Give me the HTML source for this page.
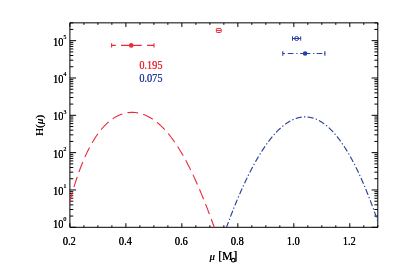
<!DOCTYPE html>
<html><head><meta charset="utf-8"><title>plot</title>
<style>
html,body{margin:0;padding:0;background:#fff;}
body{width:399px;height:273px;overflow:hidden;}
svg{display:block;will-change:transform;}
text{font-family:"Liberation Serif",serif;font-size:11.7px;color:#000;fill:currentColor;text-shadow:0.2px 0 0 currentColor;}
</style></head><body>
<svg width="399" height="273" viewBox="0 0 399 273">
<rect width="399" height="273" fill="#fff"/>
<rect x="69.90" y="22.85" width="307.90" height="204.45" fill="none" stroke="#000" stroke-width="1" stroke-linejoin="round"/>
<path d="M69.90 227.30v-4.10M69.90 22.85v4.10M83.90 227.30v-2.00M83.90 22.85v2.00M97.89 227.30v-2.00M97.89 22.85v2.00M111.89 227.30v-2.00M111.89 22.85v2.00M125.88 227.30v-4.10M125.88 22.85v4.10M139.88 227.30v-2.00M139.88 22.85v2.00M153.87 227.30v-2.00M153.87 22.85v2.00M167.87 227.30v-2.00M167.87 22.85v2.00M181.86 227.30v-4.10M181.86 22.85v4.10M195.86 227.30v-2.00M195.86 22.85v2.00M209.85 227.30v-2.00M209.85 22.85v2.00M223.85 227.30v-2.00M223.85 22.85v2.00M237.85 227.30v-4.10M237.85 22.85v4.10M251.84 227.30v-2.00M251.84 22.85v2.00M265.84 227.30v-2.00M265.84 22.85v2.00M279.83 227.30v-2.00M279.83 22.85v2.00M293.83 227.30v-4.10M293.83 22.85v4.10M307.82 227.30v-2.00M307.82 22.85v2.00M321.82 227.30v-2.00M321.82 22.85v2.00M335.81 227.30v-2.00M335.81 22.85v2.00M349.81 227.30v-4.10M349.81 22.85v4.10M363.80 227.30v-2.00M363.80 22.85v2.00M377.80 227.30v-2.00M377.80 22.85v2.00M69.90 227.30h6.20M377.80 227.30h-6.20M69.90 216.06h3.40M377.80 216.06h-3.40M69.90 209.49h3.40M377.80 209.49h-3.40M69.90 204.83h3.40M377.80 204.83h-3.40M69.90 201.21h3.40M377.80 201.21h-3.40M69.90 198.25h3.40M377.80 198.25h-3.40M69.90 195.75h3.40M377.80 195.75h-3.40M69.90 193.59h3.40M377.80 193.59h-3.40M69.90 191.68h3.40M377.80 191.68h-3.40M69.90 189.97h6.20M377.80 189.97h-6.20M69.90 178.74h3.40M377.80 178.74h-3.40M69.90 172.16h3.40M377.80 172.16h-3.40M69.90 167.50h3.40M377.80 167.50h-3.40M69.90 163.88h3.40M377.80 163.88h-3.40M69.90 160.93h3.40M377.80 160.93h-3.40M69.90 158.43h3.40M377.80 158.43h-3.40M69.90 156.26h3.40M377.80 156.26h-3.40M69.90 154.35h3.40M377.80 154.35h-3.40M69.90 152.64h6.20M377.80 152.64h-6.20M69.90 141.41h3.40M377.80 141.41h-3.40M69.90 134.83h3.40M377.80 134.83h-3.40M69.90 130.17h3.40M377.80 130.17h-3.40M69.90 126.55h3.40M377.80 126.55h-3.40M69.90 123.60h3.40M377.80 123.60h-3.40M69.90 121.10h3.40M377.80 121.10h-3.40M69.90 118.93h3.40M377.80 118.93h-3.40M69.90 117.02h3.40M377.80 117.02h-3.40M69.90 115.32h6.20M377.80 115.32h-6.20M69.90 104.08h3.40M377.80 104.08h-3.40M69.90 97.51h3.40M377.80 97.51h-3.40M69.90 92.84h3.40M377.80 92.84h-3.40M69.90 89.22h3.40M377.80 89.22h-3.40M69.90 86.27h3.40M377.80 86.27h-3.40M69.90 83.77h3.40M377.80 83.77h-3.40M69.90 81.61h3.40M377.80 81.61h-3.40M69.90 79.70h3.40M377.80 79.70h-3.40M69.90 77.99h6.20M377.80 77.99h-6.20M69.90 66.75h3.40M377.80 66.75h-3.40M69.90 60.18h3.40M377.80 60.18h-3.40M69.90 55.51h3.40M377.80 55.51h-3.40M69.90 51.90h3.40M377.80 51.90h-3.40M69.90 48.94h3.40M377.80 48.94h-3.40M69.90 46.44h3.40M377.80 46.44h-3.40M69.90 44.28h3.40M377.80 44.28h-3.40M69.90 42.37h3.40M377.80 42.37h-3.40M69.90 40.66h6.20M377.80 40.66h-6.20M69.90 29.42h3.40M377.80 29.42h-3.40M69.90 22.85h3.40M377.80 22.85h-3.40" fill="none" stroke="#000" stroke-width="1"/>
<path d="M69.50 202.56 L70.50 198.86 L71.50 195.28 L72.50 191.82 L73.50 188.46 L74.50 185.21 L75.50 182.07 L76.50 179.02 L77.50 176.08 L78.50 173.23 L79.50 170.48 L80.50 167.81 L81.50 165.24 L82.50 162.75 L83.50 160.35 L84.50 158.03 L85.50 155.78 L86.50 153.62 L87.50 151.53 L88.50 149.51 L89.50 147.57 L90.50 145.69 L91.50 143.89 L92.50 142.15 L93.50 140.47 L94.50 138.85 L95.50 137.30 L96.50 135.81 L97.50 134.37 L98.50 132.99 L99.50 131.67 L100.50 130.40 L101.50 129.18 L102.50 128.01 L103.50 126.89 L104.50 125.82 L105.50 124.80 L106.50 123.83 L107.50 122.90 L108.50 122.02 L109.50 121.18 L110.50 120.38 L111.50 119.62 L112.50 118.91 L113.50 118.24 L114.50 117.60 L115.50 117.01 L116.50 116.45 L117.50 115.93 L118.50 115.45 L119.50 115.01 L120.50 114.60 L121.50 114.23 L122.50 113.89 L123.50 113.59 L124.50 113.32 L125.50 113.08 L126.50 112.88 L127.50 112.71 L128.50 112.58 L129.50 112.48 L130.50 112.41 L131.50 112.38 L132.50 112.37 L133.50 112.40 L134.50 112.46 L135.50 112.56 L136.50 112.68 L137.50 112.84 L138.50 113.03 L139.50 113.25 L140.50 113.50 L141.50 113.79 L142.50 114.11 L143.50 114.45 L144.50 114.84 L145.50 115.25 L146.50 115.70 L147.50 116.17 L148.50 116.68 L149.50 117.23 L150.50 117.80 L151.50 118.41 L152.50 119.06 L153.50 119.73 L154.50 120.44 L155.50 121.18 L156.50 121.96 L157.50 122.77 L158.50 123.61 L159.50 124.49 L160.50 125.40 L161.50 126.35 L162.50 127.33 L163.50 128.35 L164.50 129.40 L165.50 130.49 L166.50 131.62 L167.50 132.78 L168.50 133.97 L169.50 135.21 L170.50 136.47 L171.50 137.78 L172.50 139.12 L173.50 140.50 L174.50 141.91 L175.50 143.36 L176.50 144.85 L177.50 146.38 L178.50 147.94 L179.50 149.54 L180.50 151.18 L181.50 152.86 L182.50 154.57 L183.50 156.32 L184.50 158.11 L185.50 159.93 L186.50 161.80 L187.50 163.70 L188.50 165.63 L189.50 167.61 L190.50 169.62 L191.50 171.66 L192.50 173.75 L193.50 175.87 L194.50 178.02 L195.50 180.21 L196.50 182.44 L197.50 184.70 L198.50 187.00 L199.50 189.33 L200.50 191.69 L201.50 194.09 L202.50 196.52 L203.50 198.98 L204.50 201.48 L205.50 204.01 L206.50 206.56 L207.50 209.15 L208.50 211.77 L209.50 214.41 L210.50 217.08 L211.50 219.78 L212.50 222.51 L213.50 225.26 L214.25 227.34" fill="none" stroke="#ea2a38" stroke-width="1.1" stroke-dasharray="10.8 5.2"/>
<path d="M226.50 227.28L226.60 227.00L227.10 225.64L227.60 224.29L228.10 222.95L228.43 222.08M229.24 219.92L229.30 219.75L229.70 218.71M230.50 216.61L230.60 216.35L231.10 215.05L231.60 213.76L232.10 212.48L232.60 211.21L232.75 210.83M233.60 208.69L233.60 208.69L234.08 207.49M234.93 205.40L235.00 205.22L235.50 203.99L236.00 202.78L236.50 201.57L237.00 200.37L237.29 199.67M238.19 197.55L238.20 197.52L238.70 196.35M239.59 194.29L239.60 194.26L240.10 193.11L240.60 191.96L241.10 190.83L241.60 189.70L242.09 188.61M243.04 186.52L243.10 186.38L243.58 185.34M244.52 183.29L244.60 183.13L245.10 182.06L245.60 181.00L246.10 179.95L246.60 178.91L247.10 177.87L247.18 177.70M248.20 175.63L248.20 175.62L248.70 174.62L248.78 174.47M249.79 172.46L249.80 172.43L250.30 171.45L250.80 170.48L251.30 169.51L251.80 168.56L252.30 167.61L252.65 166.96M253.74 164.93L253.80 164.82L254.30 163.91L254.36 163.79M255.46 161.83L255.50 161.75L256.00 160.86L256.50 159.99L257.00 159.12L257.50 158.26L258.00 157.41L258.50 156.57L258.56 156.46M259.75 154.49L259.80 154.42L260.30 153.61L260.44 153.39M261.64 151.48L261.70 151.38L262.20 150.60L262.70 149.83L263.20 149.07L263.70 148.32L264.20 147.58L264.70 146.84L265.06 146.31M266.38 144.43L266.40 144.40L266.90 143.71L267.14 143.38M268.48 141.57L268.50 141.54L269.00 140.87L269.50 140.22L270.00 139.58L270.50 138.95L271.00 138.32L271.50 137.70L272.00 137.10L272.33 136.71M273.82 134.96L273.90 134.87L274.40 134.30L274.68 133.99M276.21 132.33L276.30 132.23L276.80 131.71L277.30 131.20L277.80 130.69L278.30 130.19L278.80 129.71L279.30 129.23L279.80 128.76L280.30 128.30L280.64 127.99M282.37 126.49L282.40 126.46L282.90 126.05L283.38 125.66M285.16 124.29L285.20 124.26L285.70 123.90L286.20 123.54L286.70 123.20L287.20 122.86L287.70 122.54L288.20 122.22L288.70 121.91L289.20 121.61L289.70 121.32L290.20 121.04L290.37 120.94M292.42 119.90L292.50 119.86L293.00 119.63L293.50 119.41L293.61 119.37M295.70 118.55L295.80 118.52L296.30 118.35L296.80 118.19L297.30 118.04L297.80 117.89L298.30 117.76L298.80 117.64L299.30 117.53L299.80 117.42L300.30 117.33L300.80 117.24L301.30 117.17L301.72 117.11M304.02 116.92L304.10 116.92L304.60 116.90L305.10 116.90L305.31 116.90M307.56 117.01L307.60 117.02L308.10 117.07L308.60 117.13L309.10 117.20L309.60 117.28L310.10 117.37L310.60 117.47L311.10 117.58L311.60 117.70L312.10 117.83L312.60 117.97L313.10 118.11L313.60 118.27L313.62 118.28M315.78 119.07L315.80 119.07L316.30 119.28L316.80 119.50L316.97 119.58M318.99 120.57L319.00 120.58L319.50 120.85L320.00 121.13L320.50 121.42L321.00 121.72L321.50 122.03L322.00 122.35L322.50 122.68L323.00 123.02L323.50 123.37L324.00 123.73L324.22 123.89M326.04 125.29L326.10 125.34L326.60 125.75L327.05 126.12M328.73 127.61L328.80 127.67L329.30 128.13L329.80 128.60L330.30 129.08L330.80 129.58L331.30 130.08L331.80 130.59L332.30 131.11L332.80 131.65L333.12 131.99M334.65 133.70L334.70 133.76L335.20 134.34L335.50 134.69M336.93 136.42L337.00 136.51L337.50 137.14L338.00 137.77L338.50 138.42L339.00 139.08L339.50 139.74L340.00 140.42L340.50 141.11L340.68 141.36M342.01 143.24L342.10 143.37L342.60 144.10L342.74 144.31M343.99 146.18L344.00 146.19L344.50 146.96L345.00 147.74L345.50 148.53L346.00 149.33L346.50 150.14L347.00 150.95L347.29 151.43M348.46 153.41L348.50 153.47L349.00 154.33L349.12 154.53M350.23 156.49L350.30 156.61L350.80 157.51L351.30 158.42L351.80 159.33L352.30 160.26L352.80 161.20L353.19 161.94M354.25 163.98L354.30 164.08L354.80 165.05L354.84 165.14M355.85 167.15L355.90 167.25L356.40 168.26L356.90 169.28L357.40 170.31L357.90 171.36L358.40 172.41L358.55 172.73M359.52 174.81L359.60 174.98L360.06 176.00M360.99 178.04L361.00 178.06L361.50 179.18L362.00 180.31L362.50 181.45L363.00 182.60L363.48 183.72M364.38 185.84L364.40 185.88L364.89 187.04M365.75 189.12L365.80 189.24L366.30 190.46L366.80 191.69L367.30 192.93L367.80 194.18L368.07 194.86M368.91 197.01L369.00 197.23L369.38 198.22M370.19 200.32L370.20 200.34L370.70 201.66L371.20 202.98L371.70 204.32L372.20 205.66L372.37 206.12M373.16 208.28L373.20 208.38L373.61 209.50M374.37 211.62L374.40 211.71L374.90 213.11L375.40 214.53L375.90 215.95L376.40 217.39L376.43 217.47M377.18 219.64L377.20 219.71L377.60 220.87" fill="none" stroke="#2b3f9f" stroke-width="1.15"/>
<text transform="translate(69.30 244.60) scale(0.88 1)" text-anchor="middle">0.2</text>
<text transform="translate(125.28 244.60) scale(0.88 1)" text-anchor="middle">0.4</text>
<text transform="translate(181.26 244.60) scale(0.88 1)" text-anchor="middle">0.6</text>
<text transform="translate(237.25 244.60) scale(0.88 1)" text-anchor="middle">0.8</text>
<text transform="translate(293.23 244.60) scale(0.88 1)" text-anchor="middle">1.0</text>
<text transform="translate(349.21 244.60) scale(0.88 1)" text-anchor="middle">1.2</text>
<text transform="translate(63.30 228.00) scale(0.88 1)" text-anchor="end">10</text>
<text transform="translate(63.30 221.30) scale(0.88 1)" style="font-size:7px">0</text>
<text transform="translate(63.30 195.07) scale(0.88 1)" text-anchor="end">10</text>
<text transform="translate(63.30 188.37) scale(0.88 1)" style="font-size:7px">1</text>
<text transform="translate(63.30 157.74) scale(0.88 1)" text-anchor="end">10</text>
<text transform="translate(63.30 151.04) scale(0.88 1)" style="font-size:7px">2</text>
<text transform="translate(63.30 120.42) scale(0.88 1)" text-anchor="end">10</text>
<text transform="translate(63.30 113.72) scale(0.88 1)" style="font-size:7px">3</text>
<text transform="translate(63.30 83.09) scale(0.88 1)" text-anchor="end">10</text>
<text transform="translate(63.30 76.39) scale(0.88 1)" style="font-size:7px">4</text>
<text transform="translate(63.30 45.76) scale(0.88 1)" text-anchor="end">10</text>
<text transform="translate(63.30 39.06) scale(0.88 1)" style="font-size:7px">5</text>
<text transform="translate(209.60 260.00) scale(1.0 1)" style="font-size:10.5px"><tspan font-style="italic">μ</tspan></text>
<text transform="translate(218.20 260.00) scale(1.0 1)">[M</text>
<circle cx="233.2" cy="260.2" r="1.8" fill="none" stroke="#000" stroke-width="1.1"/>
<text transform="translate(233.20 260.00) scale(1.0 1)">]</text>
<text transform="translate(43.30 125.50) rotate(-90) scale(1.0 1)" text-anchor="middle" style="font-size:11px">H(<tspan font-style="italic">μ</tspan>)</text>
<text transform="translate(139.20 68.60) scale(0.88 1)" style="color:#ea2a38">0.195</text>
<text transform="translate(139.20 82.30) scale(0.88 1)" style="color:#2b3f9f">0.075</text>
<g stroke="#ea2a38" stroke-width="1.1" fill="none">
<path d="M111.60 45.40H115.80 M121.00 45.40H141.70 M147.00 45.40H154.00"/>
<path d="M111.6 43.20v4.4M154 43.20v4.4"/>
</g>
<circle cx="131.20" cy="45.40" r="2.3" fill="#ea2a38"/>
<g stroke="#ea2a38" stroke-width="1" fill="none">
<rect x="216.40" y="28.45" width="4.8" height="4" rx="0.7"/>
<path d="M216.40 30.45H221.20"/>
</g>
<g stroke="#2b3f9f" stroke-width="1" fill="none">
<circle cx="296.60" cy="38.50" r="2"/>
<path d="M292.50 38.50H300.70 M292.50 36.30v4.4 M300.70 36.30v4.4"/>
</g>
<g stroke="#2b3f9f" stroke-width="1.1" fill="none">
<path d="M282.80 53.45H285.00M287.80 53.45H293.40M296.30 53.45H297.50M300.20 53.45H310.40M313.10 53.45H314.30M316.70 53.45H322.40M324.00 53.45H324.90"/>
<path d="M282.8 51.15v4.6M324.9 51.15v4.6"/>
</g>
<circle cx="305.10" cy="53.45" r="2.3" fill="#2b3f9f"/>
</svg></body></html>
